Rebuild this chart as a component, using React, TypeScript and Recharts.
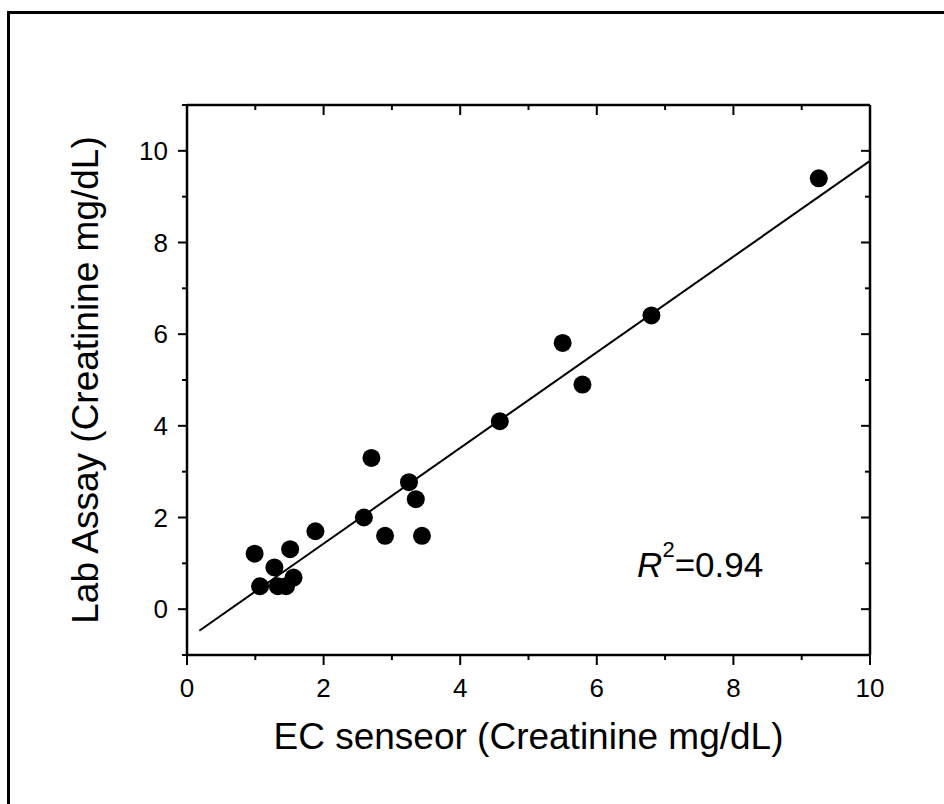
import React from "react";
import { ScatterChart, Scatter, XAxis, YAxis, ReferenceLine, ReferenceDot, Label } from "recharts";

// readings (mg/dL) taken off the figure
const ecSensor = [0.99, 1.07, 1.28, 1.33, 1.45, 1.51, 1.56, 1.88, 2.59, 2.7, 2.9, 3.25, 3.35, 3.44, 4.58, 5.5, 5.79, 6.8, 9.25];
const labAssay = [1.21, 0.5, 0.91, 0.5, 0.5, 1.31, 0.69, 1.7, 2.0, 3.3, 1.6, 2.77, 2.4, 1.6, 4.1, 5.81, 4.9, 6.41, 9.4];

// linear fit drawn across the plot
const fitX = [0.18, 10];
const fitY = [-0.47, 9.78];

const xTicks = [0, 1, 2, 3, 4, 5, 6, 7, 8, 9, 10];
const yTicks = [-1, 0, 1, 2, 3, 4, 5, 6, 7, 8, 9, 10, 11];
const rSquared = "0.94";

const points = ecSensor.map((x, i) => ({ x, y: labAssay[i] }));
const FONT = "'Liberation Sans', Arial, Helvetica, sans-serif";
const MAJOR = 9;
const MINOR = 5;

const isMajor = (v: number) => v % 2 === 0;

function BottomTick({ x, y, payload }: any) {
  const v = payload.value;
  return (
    <g>
      <line x1={x} y1={y} x2={x} y2={y + (isMajor(v) ? MAJOR + 1 : MINOR)} stroke="#000" strokeWidth={2} />
      {isMajor(v) && (
        <text x={x} y={y + 42} textAnchor="middle" fontSize={26} fontFamily={FONT} fill="#000">
          {v}
        </text>
      )}
    </g>
  );
}

function LeftTick({ x, y, payload }: any) {
  const v = payload.value;
  const show = isMajor(v) && v >= 0 && v <= 10;
  return (
    <g>
      <line x1={x} y1={y} x2={x - (isMajor(v) ? MAJOR : MINOR)} y2={y} stroke="#000" strokeWidth={2} />
      {show && (
        <text x={x - 19} y={y + 9} textAnchor="end" fontSize={26} fontFamily={FONT} fill="#000">
          {v}
        </text>
      )}
    </g>
  );
}

function TopTick({ x, y, payload }: any) {
  const len = isMajor(payload.value) ? MAJOR + 1 : MINOR;
  return <line x1={x} y1={y} x2={x} y2={y + len} stroke="#000" strokeWidth={2} />;
}

function RightTick({ x, y, payload }: any) {
  const len = isMajor(payload.value) ? MAJOR : MINOR;
  return <line x1={x} y1={y} x2={x - len} y2={y} stroke="#000" strokeWidth={2} />;
}

const Dot = (p: any) => <circle cx={p.cx} cy={p.cy} r={9} fill="#000" />;

export default function App() {
  const axisLine = { stroke: "#000", strokeWidth: 2.5 };
  return (
    <div style={{ position: "fixed", left: 0, top: 0, width: 944, height: 804, overflow: "hidden", background: "#fff" }}>
      <div
        style={{
          position: "absolute",
          left: 7,
          top: 11,
          width: 1000,
          height: 900,
          borderLeft: "3px solid #000",
          borderTop: "3px solid #000",
        }}
      />
      <div style={{ position: "absolute", left: 0, top: 0 }}>
        <ScatterChart width={944} height={804} margin={{ top: 95, right: 64, bottom: 0, left: 0 }}>
          <XAxis
            type="number"
            dataKey="x"
            xAxisId="b"
            domain={[0, 10]}
            ticks={xTicks}
            interval={0}
            height={149}
            tickSize={0}
            tickMargin={0}
            tickLine={false}
            axisLine={axisLine}
            tick={BottomTick}
            allowDataOverflow
          >
            <Label
              content={(p: any) => {
                const vb = p.viewBox;
                return (
                  <text x={vb.x + vb.width / 2} y={vb.y + 94} textAnchor="middle" fontSize={37} fontFamily={FONT} fill="#000">
                    EC senseor (Creatinine mg/dL)
                  </text>
                );
              }}
            />
          </XAxis>
          <XAxis
            type="number"
            dataKey="x"
            xAxisId="t"
            orientation="top"
            domain={[0, 10]}
            ticks={xTicks}
            interval={0}
            height={10}
            tickSize={0}
            tickMargin={0}
            tickLine={false}
            axisLine={axisLine}
            tick={TopTick}
            allowDataOverflow
          />
          <YAxis
            type="number"
            dataKey="y"
            yAxisId="l"
            domain={[-1, 11]}
            ticks={yTicks}
            interval={0}
            width={187}
            tickSize={0}
            tickMargin={0}
            tickLine={false}
            axisLine={axisLine}
            tick={LeftTick}
            allowDataOverflow
          >
            <Label
              content={(p: any) => {
                const vb = p.viewBox;
                const cx = vb.x + vb.width - 89;
                const cy = vb.y + vb.height / 2;
                return (
                  <text
                    x={cx}
                    y={cy}
                    transform={`rotate(-90 ${cx} ${cy})`}
                    textAnchor="middle"
                    fontSize={37}
                    fontFamily={FONT}
                    fill="#000"
                  >
                    Lab Assay (Creatinine mg/dL)
                  </text>
                );
              }}
            />
          </YAxis>
          <YAxis
            type="number"
            dataKey="y"
            yAxisId="r"
            orientation="right"
            domain={[-1, 11]}
            ticks={yTicks}
            interval={0}
            width={10}
            tickSize={0}
            tickMargin={0}
            tickLine={false}
            axisLine={axisLine}
            tick={RightTick}
            allowDataOverflow
          />
          <ReferenceLine
            xAxisId="b"
            yAxisId="l"
            segment={[
              { x: fitX[0], y: fitY[0] },
              { x: fitX[1], y: fitY[1] },
            ]}
            stroke="#000"
            strokeWidth={2}
            ifOverflow="visible"
          />
          <Scatter xAxisId="b" yAxisId="l" data={points} shape={Dot} isAnimationActive={false} />
          <Scatter xAxisId="t" yAxisId="r" data={points} shape={() => <g />} isAnimationActive={false} />
          <ReferenceDot
            xAxisId="b"
            yAxisId="l"
            x={6.59}
            y={0.71}
            r={0}
            ifOverflow="visible"
            shape={(p: any) => (
              <text x={p.cx} y={p.cy} fontSize={35} fontFamily={FONT} fill="#000">
                <tspan fontStyle="italic">R</tspan>
                <tspan dy={-20} fontSize={22}>2</tspan>
                <tspan dy={20}>={rSquared}</tspan>
              </text>
            )}
          />
        </ScatterChart>
      </div>
    </div>
  );
}
